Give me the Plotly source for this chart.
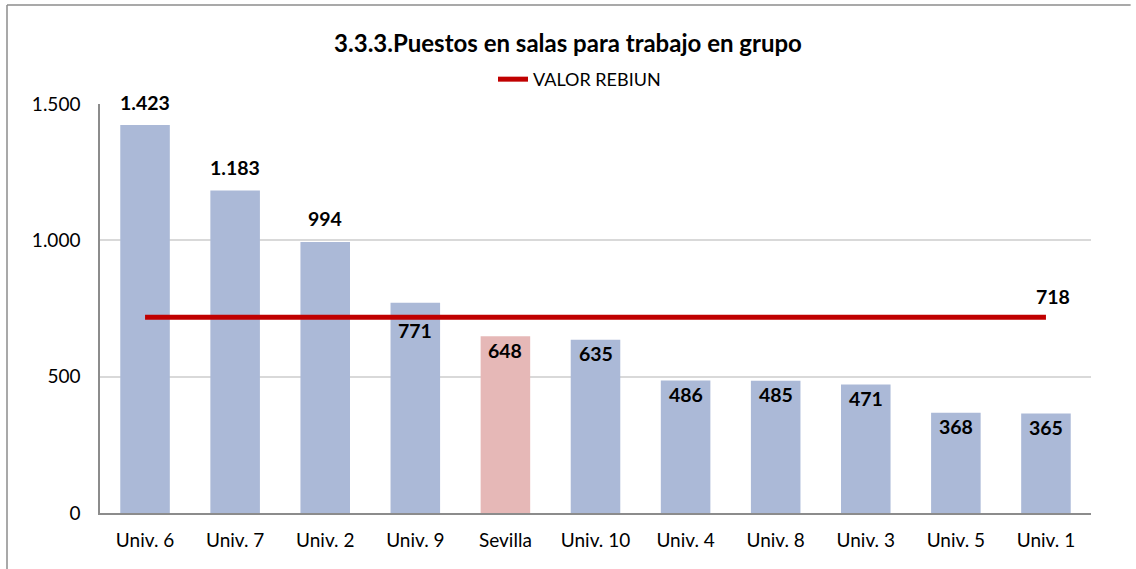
import plotly.graph_objects as go

categories = ["Univ. 6", "Univ. 7", "Univ. 2", "Univ. 9", "Sevilla", "Univ. 10",
              "Univ. 4", "Univ. 8", "Univ. 3", "Univ. 5", "Univ. 1"]
values = [1423, 1183, 994, 771, 648, 635, 486, 485, 471, 368, 365]
rebiun = [718, 718, 718, 718, 718, 718, 718, 718, 718, 718, 718]
title_text = "3.3.3.Puestos en salas para trabajo en grupo"
legend_name = "VALOR REBIUN"

FONT = "Lato"
bar_colors = ["#E6B8B7" if c == "Sevilla" else "#ABB9D7" for c in categories]


def fmt(v):
    return f"{v:,}".replace(",", ".")


fig = go.Figure()
fig.add_trace(go.Bar(
    x=categories, y=values, marker=dict(color=bar_colors, line=dict(width=0)),
    showlegend=False, hoverinfo="x+y",
))
fig.add_trace(go.Scatter(
    x=categories, y=rebiun, mode="lines", name=legend_name,
    line=dict(color="#C00000", width=5),
))

annotations = []
for c, v, r in zip(categories, values, rebiun):
    if v > 900:
        shift = 23
    elif v - r > 0 and v - r < 120:
        shift = -28
    else:
        shift = -14
    annotations.append(dict(
        x=c, y=v, text=f"<b>{fmt(v)}</b>", showarrow=False, yshift=shift,
        xanchor="center", yanchor="middle",
        font=dict(family=FONT, size=19.5, color="black")))
annotations.append(dict(
    x=categories[-1], y=rebiun[-1], text=f"<b>{fmt(rebiun[-1])}</b>", showarrow=False,
    xshift=7, yshift=21, xanchor="center", yanchor="middle",
    font=dict(family=FONT, size=19.5, color="black")))

bx = (7 - 100) / 991
by = (513 - 5) / 409
fig.update_layout(
    width=1136, height=569,
    margin=dict(l=100, r=45, t=104, b=56),
    paper_bgcolor="white", plot_bgcolor="white",
    separators=",.",
    bargap=0.45,
    font=dict(family=FONT, size=19, color="black"),
    title=dict(text=f"<b>{title_text}</b>", x=0.5, xanchor="center",
               y=1 - 44 / 569, yanchor="middle", yref="container",
               font=dict(family=FONT, size=24, color="black")),
    legend=dict(orientation="h", x=0.5 - 16 / 991, xanchor="center", y=1.06, yanchor="middle",
                font=dict(family=FONT, size=18), bgcolor="rgba(0,0,0,0)"),
    xaxis=dict(showline=True, linecolor="#8C8C8C", linewidth=1.5, ticks="",
               tickfont=dict(family=FONT, size=19), showgrid=False,
               ticklabelstandoff=9),
    yaxis=dict(range=[0, 1500], tickvals=[0, 500, 1000, 1500], tickformat=",d",
               showgrid=True, gridcolor="#D9D9D9", gridwidth=1.5,
               showline=True, linecolor="#8C8C8C", linewidth=1.5,
               tickfont=dict(family=FONT, size=19), ticks="", ticklabelstandoff=14,
               zeroline=False),
    annotations=annotations,
    shapes=[
        dict(type="line", xref="paper", yref="paper", x0=bx, x1=bx, y0=-0.3, y1=by,
             line=dict(color="#8C8C8C", width=1.5), layer="below"),
        dict(type="line", xref="paper", yref="paper", x0=bx, x1=1.04, y0=by, y1=by,
             line=dict(color="#8C8C8C", width=1.5), layer="below"),
    ],
)

fig.write_html(
    "out.html", config={"displayModeBar": False},
    post_script=("document.body.style.margin='0';"
                 "document.body.style.overflow='hidden';"
                 "document.documentElement.style.overflow='hidden';"))
